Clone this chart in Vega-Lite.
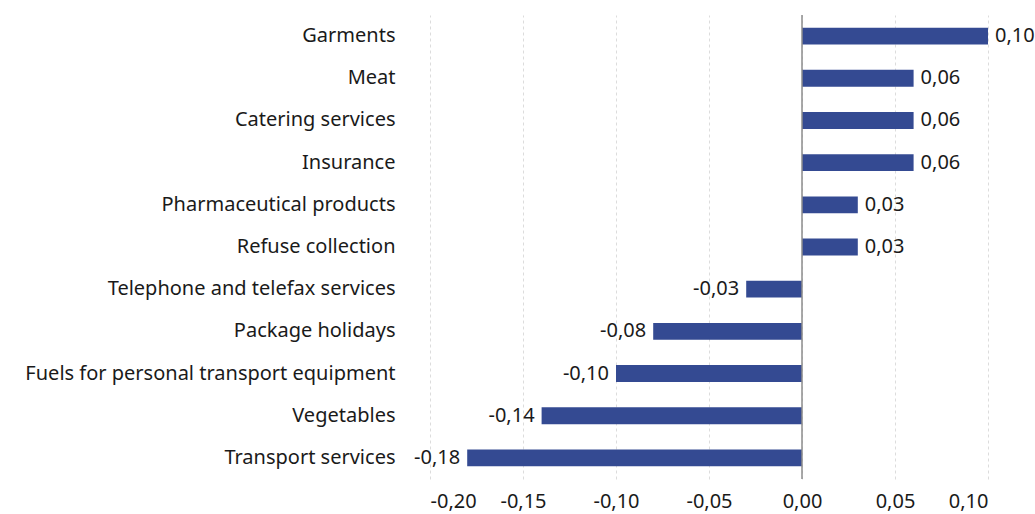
{
  "$schema": "https://vega.github.io/schema/vega-lite/v6.json",
  "autosize": {"type": "fit", "contains": "padding"},
  "width": 1035,
  "height": 514,
  "padding": {"left": 24, "right": 0, "top": 14, "bottom": 3},
  "config": {
    "view": {"stroke": null},
    "locale": {"number": {"decimal": ",", "thousands": ".", "grouping": [3], "currency": ["", " €"], "minus": "-"}},
    "font": "Noto Sans"
  },
  "data": {"values": [
    {"item": "Garments", "value": 0.10},
    {"item": "Meat", "value": 0.06},
    {"item": "Catering services", "value": 0.06},
    {"item": "Insurance", "value": 0.06},
    {"item": "Pharmaceutical products", "value": 0.03},
    {"item": "Refuse collection", "value": 0.03},
    {"item": "Telephone and telefax services", "value": -0.03},
    {"item": "Package holidays", "value": -0.08},
    {"item": "Fuels for personal transport equipment", "value": -0.10},
    {"item": "Vegetables", "value": -0.14},
    {"item": "Transport services", "value": -0.18}
  ]},
  "encoding": {
    "y": {"field": "item", "type": "nominal", "sort": null, "title": null,
      "scale": {"paddingInner": 0.6, "paddingOuter": 0.3},
      "axis": {"domain": false, "ticks": false, "labelFontSize": 20, "labelColor": "#1a1a1a", "labelPadding": 35, "labelLimit": 600}},
    "x": {"field": "value", "type": "quantitative", "title": null,
      "scale": {"domain": [-0.2, 0.1], "nice": false, "zero": false},
      "axis": {"values": [-0.2, -0.15, -0.1, -0.05, 0, 0.05, 0.1], "format": ".2f", "domain": false, "ticks": false, "labelFontSize": 20, "labelColor": "#1a1a1a", "labelPadding": 12, "grid": true, "gridColor": "#dcdcdc", "gridDash": [3, 3], "gridWidth": 1}}
  },
  "layer": [
    {"mark": {"type": "bar", "color": "#344a92"}},
    {"mark": {"type": "rule", "color": "#8c8c8c", "strokeWidth": 1.5},
     "data": {"values": [{"z": 0}]},
     "encoding": {"x": {"field": "z", "type": "quantitative"}, "y": null}},
    {"transform": [{"filter": "datum.value >= 0"}],
     "mark": {"type": "text", "align": "left", "dx": 7, "fontSize": 20, "color": "#1a1a1a"},
     "encoding": {"text": {"field": "value", "type": "quantitative", "format": ".2f"}}},
    {"transform": [{"filter": "datum.value < 0"}],
     "mark": {"type": "text", "align": "right", "dx": -7, "fontSize": 20, "color": "#1a1a1a"},
     "encoding": {"text": {"field": "value", "type": "quantitative", "format": ".2f"}}}
  ]
}
